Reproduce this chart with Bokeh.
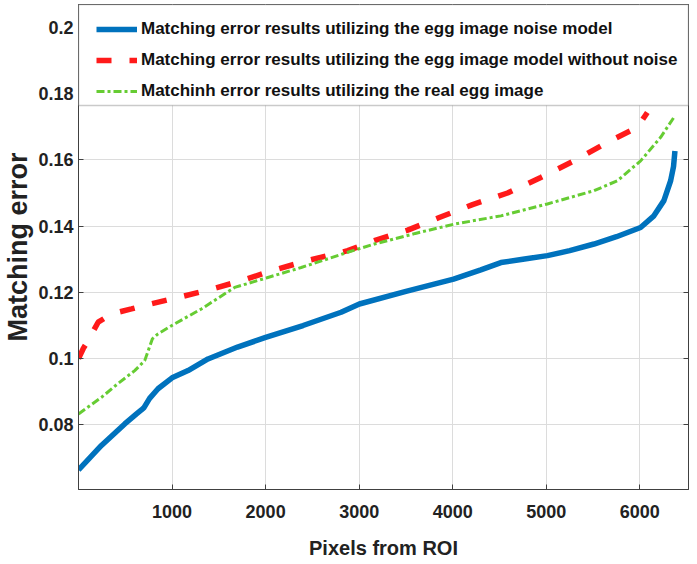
from bokeh.plotting import figure
from bokeh.models import Range1d, LinearAxis, FixedTicker, Legend, LegendItem, BoxAnnotation
from bokeh.embed import file_html
from bokeh.resources import INLINE

# ---- data ----
noise_x = [0, 245, 494, 620, 672, 700, 760, 850, 1000, 1171, 1384, 1700, 2000, 2400, 2807,
           3002, 3500, 4009, 4300, 4515, 4750, 5012, 5250, 5510, 5750, 6008, 6150, 6257,
           6329, 6360, 6375]
noise_y = [0.0664, 0.0738, 0.0803, 0.0833, 0.0845, 0.0852, 0.0880, 0.0909, 0.0942, 0.0964,
           0.0999, 0.1035, 0.1064, 0.1100, 0.1140, 0.1165, 0.1203, 0.1240, 0.1268, 0.1290,
           0.1300, 0.1311, 0.1326, 0.1346, 0.1368, 0.1396, 0.1431, 0.1477, 0.1537, 0.1580,
           0.1627]

clean_x = [0, 50, 103, 210, 352, 566, 743, 921, 1099, 1384, 1740, 2095, 2451, 2878, 3162,
           3519, 3856, 4212, 4586, 4941, 5297, 5653, 5973, 6080]
clean_y = [0.1000, 0.1030, 0.1055, 0.1110, 0.1135, 0.1150, 0.1163, 0.1175, 0.1187, 0.1207,
           0.1235, 0.1268, 0.1296, 0.1326, 0.1356, 0.1388, 0.1426, 0.1465, 0.1500, 0.1547,
           0.1597, 0.1653, 0.1698, 0.1743]

real_x = [0, 245, 423, 601, 708, 740, 790, 850, 1028, 1313, 1669, 2024, 2380, 2878, 3162,
          3600, 4016, 4515, 5012, 5510, 5760, 6008, 6222, 6375]
real_y = [0.0833, 0.0883, 0.0925, 0.0964, 0.0994, 0.1020, 0.1060, 0.1075, 0.1105, 0.1150,
          0.1215, 0.1245, 0.1275, 0.1321, 0.1346, 0.1378, 0.1406, 0.1431, 0.1467, 0.1507,
          0.1537, 0.1597, 0.1668, 0.1733]

labels = ["Matching error results utilizing the egg image noise model",
          "Matching error results utilizing the egg image model without noise",
          "Matchinh error results utilizing the real egg image"]

x_ticks = [1000, 2000, 3000, 4000, 5000, 6000]
y_ticks = [0.08, 0.1, 0.12, 0.14, 0.16, 0.18, 0.2]
y_tick_labels = ["0.08", "0.1", "0.12", "0.14", "0.16", "0.18", "0.2"]

FONT = "Liberation Sans"
AX = "#404040"

p = figure(width=697, height=564, output_backend="svg", toolbar_location=None,
           x_range=Range1d(0, 6520), y_range=Range1d(0.0605, 0.2069),
           min_border_left=77, min_border_right=9, min_border_top=4, min_border_bottom=75,
           background_fill_color="white", border_fill_color="white")
p.outline_line_color = AX
p.outline_line_width = 1

r1 = p.line(noise_x, noise_y, line_color="#0072BD", line_width=5.5)
r2 = p.line(clean_x, clean_y, line_color="#FF1A1A", line_width=5.5, line_dash="15 18")
r3 = p.line(real_x, real_y, line_color="#66CC33", line_width=3, line_dash="8 3 3 3")

# axes
for ax in (p.xaxis[0], p.yaxis[0]):
    ax.axis_line_color = AX
    ax.major_tick_line_color = AX
    ax.major_tick_in = 5
    ax.major_tick_out = 0
    ax.minor_tick_line_color = None
    ax.major_label_text_font = FONT
    ax.major_label_text_font_style = "bold"
    ax.major_label_text_font_size = "18px"
    ax.major_label_text_color = "#222222"
    ax.axis_label_text_font = FONT
    ax.axis_label_text_font_style = "bold"
    ax.axis_label_text_color = "#222222"

p.xaxis[0].ticker = FixedTicker(ticks=x_ticks)
p.xaxis[0].major_label_standoff = 15
p.xaxis[0].axis_label = "Pixels from ROI"
p.xaxis[0].axis_label_text_font_size = "20px"
p.xaxis[0].axis_label_standoff = 16

p.yaxis[0].ticker = FixedTicker(ticks=y_ticks)
p.yaxis[0].major_label_overrides = {t: l for t, l in zip(y_ticks, y_tick_labels)}
p.yaxis[0].major_label_standoff = 5
p.yaxis[0].axis_label = "Matching error"
p.yaxis[0].axis_label_text_font_size = "27px"
p.yaxis[0].axis_label_standoff = 2

right = LinearAxis(ticker=FixedTicker(ticks=y_ticks), axis_line_color=AX,
                   major_tick_line_color=AX, major_tick_in=5, major_tick_out=0,
                   minor_tick_line_color=None,
                   major_label_overrides={t: "" for t in y_ticks},
                   major_label_standoff=0)
p.add_layout(right, "right")

p.grid.grid_line_color = "#dcdcdc"
p.xgrid.ticker = FixedTicker(ticks=x_ticks)
p.ygrid.ticker = FixedTicker(ticks=y_ticks)

# legend box spanning the top of the axes
box = BoxAnnotation(left=0, right=6520, bottom=0.1764, top=0.2069,
                    fill_color="white", fill_alpha=1, line_color="#505050", line_width=1.5)
p.add_layout(box)

legend = Legend(items=[LegendItem(label=labels[0], renderers=[r1]),
                       LegendItem(label=labels[1], renderers=[r2]),
                       LegendItem(label=labels[2], renderers=[r3])],
                location=(13, 382), padding=5, margin=0, spacing=9,
                glyph_width=41, glyph_height=22, label_height=22, label_standoff=4,
                label_text_font=FONT, label_text_font_style="bold",
                label_text_font_size="17px", label_text_color="#111111",
                background_fill_alpha=0, border_line_alpha=0)
p.add_layout(legend)

open("out.html", "w").write(file_html(p, INLINE))
